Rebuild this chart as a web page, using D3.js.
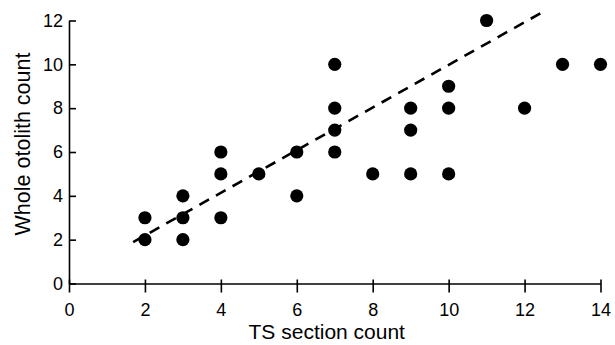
<!DOCTYPE html>
<html><head><meta charset="utf-8">
<script src="https://cdn.jsdelivr.net/npm/d3@7"></script>
<style>body{margin:0;background:#fff;} text{font-family:"Liberation Sans",Arial,sans-serif;fill:#000;}</style>
</head><body>
<svg id="c" width="615" height="345"></svg>
<script>
const tsCount    = [2,2,3,3,3,4,4,4,5,6,6,7,7,7,7,8,9,9,9,10,10,10,11,12,13,14];
const wholeCount = [2,3,2,3,4,3,5,6,5,4,6,6,7,8,10,5,5,7,8,5,8,9,12,8,10,10];
const fitX = [1.69, 12.43];
const fitY = [1.89, 12.34];
const xTicks = [0,2,4,6,8,10,12,14];
const yTicks = [0,2,4,6,8,10,12];
const xTitle = "TS section count";
const yTitle = "Whole otolith count";

const svg = d3.select("#c");
const x = d3.scaleLinear().domain([0,14]).range([69,600.5]);
const y = d3.scaleLinear().domain([0,12]).range([283.5,20.5]);

// axes
const xa = svg.append("g").attr("transform",`translate(0,${y(0)})`)
  .call(d3.axisBottom(x).tickValues(xTicks).tickSize(9).tickPadding(11).tickSizeOuter(0));
xa.selectAll(".tick line").attr("y1",-4);
const ya = svg.append("g").attr("transform",`translate(${x(0)},0)`)
  .call(d3.axisLeft(y).tickValues(yTicks).tickSize(3).tickPadding(3).tickSizeOuter(0));
ya.selectAll(".tick line").attr("x2",7);
svg.selectAll(".domain").attr("stroke","#000").attr("stroke-width",1.6);
svg.selectAll(".tick line").attr("stroke","#000").attr("stroke-width",1.6);
svg.selectAll(".tick text").attr("font-size",18).attr("font-family","Liberation Sans, Arial, sans-serif").attr("fill","#000");

// fit line
svg.append("line")
  .attr("x1",x(fitX[0])).attr("y1",y(fitY[0]))
  .attr("x2",x(fitX[1])).attr("y2",y(fitY[1]))
  .attr("stroke","#000").attr("stroke-width",2.6).attr("stroke-dasharray","11,8");

// points
svg.append("g").selectAll("circle").data(tsCount.map((d,i)=>[d,wholeCount[i]]))
  .join("circle").attr("cx",d=>x(d[0])).attr("cy",d=>y(d[1])).attr("r",6.6).attr("fill","#000");

// titles
svg.append("text").attr("x",(x(0)+x(14))/2 - 8).attr("y",339).attr("text-anchor","middle")
  .attr("font-size",21).text(xTitle);
svg.append("text").attr("transform",`translate(30,${(y(0)+y(12))/2 - 8}) rotate(-90)`)
  .attr("text-anchor","middle").attr("font-size",21.5).text(yTitle);
</script>
</body></html>
